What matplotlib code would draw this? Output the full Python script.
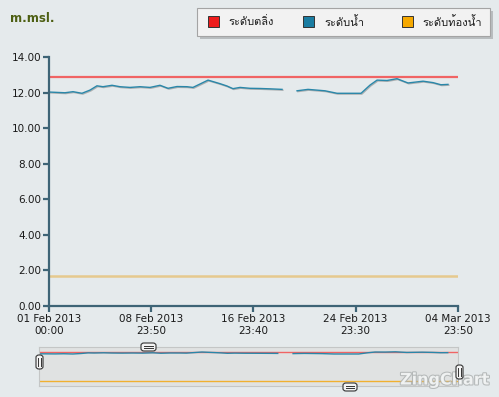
import matplotlib
matplotlib.use("Agg")
import matplotlib.pyplot as plt
import matplotlib.patheffects as pe
from matplotlib.patches import Rectangle, FancyBboxPatch
from matplotlib import font_manager
from matplotlib.ft2font import FT2Font
import numpy as np
import pandas as pd

# data
start = pd.Timestamp("2013-02-01 00:00")
end = pd.Timestamp("2013-03-04 23:50")
series_names = ["ระดับตลิ่ง", "ระดับน้ำ", "ระดับท้องน้ำ"]
series_colors = ["#ee1c1c", "#1b7da2", "#f5a800"]

bank_level = 12.85
bed_level = 1.70

water_days = [0.00, 1.25, 1.88, 2.58, 3.21, 3.75, 4.22, 4.93, 5.55, 6.34,
              7.12, 7.90, 8.68, 9.31, 10.01, 10.79, 11.26, 12.44, 13.38, 13.92,
              14.39, 14.94, 15.72, 16.51, 17.29, 18.23, 18.80, 19.40, 20.26, 21.59,
              22.53, 24.41, 25.11, 25.66, 26.44, 27.22, 28.08, 29.26, 30.04, 30.66,
              31.21]
water_level = [12.03, 11.99, 12.05, 11.96, 12.14, 12.38, 12.33, 12.41, 12.33, 12.29,
               12.33, 12.29, 12.41, 12.24, 12.34, 12.33, 12.29, 12.70, 12.50, 12.37,
               12.22, 12.29, 12.24, 12.23, 12.21, 12.18, np.nan, 12.10, 12.18, 12.10,
               11.96, 11.96, 12.42, 12.70, 12.68, 12.78, 12.54, 12.64, 12.56, 12.44,
               12.46]

tick_times = ["2013-02-01 00:00", "2013-02-08 23:50", "2013-02-16 23:40",
              "2013-02-24 23:30", "2013-03-04 23:50"]
y_ticks = [0, 2, 4, 6, 8, 10, 12, 14]

water_times = start + pd.to_timedelta(water_days, unit="D")
ticks = pd.to_datetime(tick_times)


# pick a font that actually has Thai glyphs, if there is one
def thai_font():
    for f in font_manager.fontManager.ttflist:
        try:
            if 0x0E1A in FT2Font(f.fname).get_charmap():
                return f.name
        except Exception:
            pass
    return None


thai = thai_font()
fam = ["DejaVu Sans"] if thai is None else [thai, "DejaVu Sans"]

W, H = 499, 397
BG = "#e5eaec"
AX = "#3e6476"


def fx(x):
    return x / W


def fy(y):
    return 1 - y / H


fig = plt.figure(figsize=(W / 100, H / 100), dpi=100, facecolor=BG)

# main plot
ax = fig.add_axes([fx(49), fy(306), (458 - 49) / W, (306 - 57) / H])
ax.set_facecolor("none")
ax.plot([start, end], [bank_level, bank_level], color="#f06464", lw=1.6)
ax.plot([start, end], [bed_level, bed_level], color="#e6c98e", lw=1.8)
ax.plot(water_times, water_level, color="#2a87a9", lw=1.0,
        path_effects=[pe.SimpleLineShadow(offset=(0.6, -0.6), alpha=0.25), pe.Normal()])
ax.set_xlim(start, end)
ax.set_ylim(0, 14)
ax.set_yticks(y_ticks)
ax.set_yticklabels([f"{v:.2f}" for v in y_ticks])
ax.set_xticks(ticks)
ax.set_xticklabels([t.strftime("%d %b %Y\n%H:%M") for t in ticks])
for s in ["top", "right"]:
    ax.spines[s].set_visible(False)
for s in ["left", "bottom"]:
    ax.spines[s].set_color(AX)
    ax.spines[s].set_linewidth(1.6)
ax.tick_params(colors=AX, width=1.6, length=4, labelsize=7.5, labelcolor="#1a1a1a", pad=1.5)
ax.tick_params(axis="x", pad=2)

fig.text(fx(10), fy(19), "m.msl.", color="#4d5f12", fontsize=8.5, fontweight="bold", va="center")

# legend
fig.patches.append(Rectangle((fx(200), fy(39)), fx(293), 28 / H, transform=fig.transFigure,
                             facecolor="#b9bdbf", edgecolor="none"))
fig.patches.append(Rectangle((fx(197), fy(36)), fx(293), 28 / H, transform=fig.transFigure,
                             facecolor="#f2f2f2", edgecolor="#a4a4a4", lw=0.8))
for name, col, sx, tx in zip(series_names, series_colors, [208, 303, 402], [228, 324, 422]):
    fig.patches.append(Rectangle((fx(sx), fy(27)), fx(11), 11 / H, transform=fig.transFigure,
                                 facecolor=col, edgecolor="#333333", lw=0.7))
    fig.text(fx(tx), fy(22), name, fontsize=8, family=fam, color="#1a1a1a", va="center")

# preview / zoom strip
nav = fig.add_axes([fx(39), fy(386), (458 - 39) / W, (386 - 347) / H])
nav.set_facecolor("#e0e2e2")
nav.plot([start, end], [bank_level, bank_level], color="#f06464", lw=1.0)
nav.plot([start, end], [bed_level, bed_level], color="#f0b030", lw=1.0)
nav.plot(water_times, water_level, color="#2a87a9", lw=1.0)
nav.set_xlim(start, end)
nav.set_ylim(-0.14, 14.6)
nav.set_xticks([])
nav.set_yticks([])
for s in nav.spines.values():
    s.set_color("#c4c6c6")
    s.set_linewidth(0.8)


def handle(x0, y0, x1, y1, vertical):
    fig.patches.append(FancyBboxPatch((fx(x0), fy(y1)), fx(x1 - x0), (y1 - y0) / H,
                                      boxstyle="round,pad=0,rounding_size=0.006",
                                      transform=fig.transFigure, facecolor="#f4f4f4",
                                      edgecolor="#333333", lw=0.8, zorder=5))
    cx, cy = (x0 + x1) / 2, (y0 + y1) / 2
    for d in (-1.3, 1.3):
        if vertical:
            fig.lines.append(plt.Line2D([fx(cx + d)] * 2, [fy(y0 + 3), fy(y1 - 3)],
                                        transform=fig.transFigure, color="#333333", lw=0.7, zorder=6))
        else:
            fig.lines.append(plt.Line2D([fx(x0 + 3), fx(x1 - 3)], [fy(cy + d)] * 2,
                                        transform=fig.transFigure, color="#333333", lw=0.7, zorder=6))


handle(141, 343, 156, 351, False)
handle(343, 383, 357, 391, False)
handle(36, 355, 43, 369, True)

fig.text(fx(445), fy(380), "ZingChart", fontsize=11.5, fontweight="bold", color="#f4f6f6",
         ha="center", va="center", alpha=0.9, zorder=4,
         path_effects=[pe.withStroke(linewidth=1.5, foreground="#b0b4b4")])
handle(456, 365, 463, 379, True)

fig.savefig("out.png", dpi=100, facecolor=BG)
